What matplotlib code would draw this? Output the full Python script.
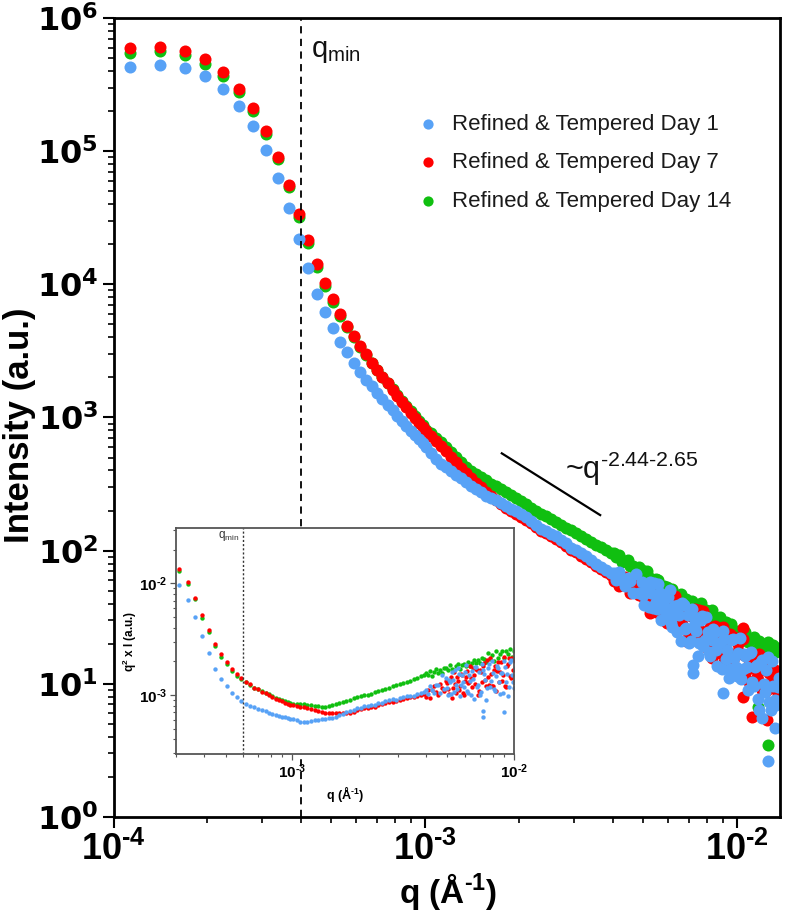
import matplotlib
matplotlib.use('Agg')
import matplotlib.pyplot as plt
from matplotlib.ticker import NullFormatter
import numpy as np

# ---------------- data ----------------
# q grid in units of 1e-4 1/Angstrom
q_e4 = [1.13, 1.41, 1.69, 1.97, 2.25, 2.53, 2.81, 3.09, 3.37, 3.65,
        3.93, 4.21, 4.49, 4.77, 5.05, 5.33, 5.61, 5.89, 6.17, 6.45,
        6.73, 7.01, 7.29, 7.57, 7.85, 8.13, 8.41, 8.69, 8.97, 9.25,
        9.53, 9.81, 10.09,
        10.47, 10.86, 11.27, 11.69, 12.13, 12.59, 13.06, 13.55, 14.06, 14.59,
        15.14, 15.70, 16.29, 16.90, 17.54, 18.20, 18.88, 19.59, 20.32, 21.09,
        21.88, 22.70, 23.55, 24.43, 25.35, 26.30, 27.29, 28.31, 29.38, 30.48,
        31.62, 32.81, 34.04, 35.32, 36.64, 38.02, 39.45,
        40.18, 41.02, 41.88, 42.76, 43.65, 44.57, 45.50, 46.45, 47.42, 48.42,
        49.43, 50.47, 51.52, 52.60, 53.70, 54.83, 55.98, 57.15, 58.34, 59.57,
        60.81, 62.09, 63.39, 64.71, 66.07, 67.45, 68.87, 70.31, 71.78, 73.28,
        74.82, 76.38, 77.98, 79.62, 81.28, 82.99, 84.72, 86.50, 88.31, 90.16,
        92.04, 93.97, 95.94, 97.95, 100.0, 102.1, 104.2, 106.4, 108.6, 110.9,
        113.2, 115.6, 118.0, 120.5, 123.0, 125.6, 128.2, 130.9, 133.7, 136.5]

I_day1 = [4.3e5, 4.4e5, 4.2e5, 3.65e5, 2.95e5, 2.2e5, 1.55e5, 1.02e5, 6.3e4, 3.75e4,
          2.2e4, 1.33e4, 8.5e3, 6.15e3, 4.7e3, 3.7e3, 3.08e3, 2.57e3, 2.2e3, 1.92e3,
          1.72e3, 1.53e3, 1.38e3, 1.245e3, 1.13e3, 1.025e3, 935, 857, 792, 736,
          684, 638, 597,
          541, 490, 449, 422, 397, 373, 351, 329, 308, 290,
          274, 258, 248, 239, 227, 217, 205, 199, 187, 178,
          166, 157, 146, 141, 133, 129, 120, 114, 105, 101,
          95.3, 91, 85.1, 79, 75.9, 71.9, 68.1,
          68.4, 60.3, 69.2, 60.3, 54.3, 62.4, 58.9, 47.9, 66.8, 47.9,
          58.2, 38.9, 49.5, 58.2, 37.2, 41.2, 56.2, 30.2, 44.2, 33.5,
          50.5, 26.8, 33.1, 39.2, 21.1, 39.4, 26.1, 20.4, 36.6, 28.6,
          16.1, 30.1, 19.2, 31.8, 17.2, 21.3, 24.3, 13.7, 20.1, 24.9,
          15.3, 11.0, 21.3, 15.6, 11.5, 22.1, 12.9, 16.3, 9.06, 17.4,
          9.62, 13.9, 6.31, 15.2, 8.75, 15.8, 6.38, 9.66, 6.92, 11.1]

I_day7 = [6.0e5, 6.1e5, 5.6e5, 4.9e5, 3.9e5, 2.95e5, 2.1e5, 1.42e5, 9.1e4, 5.6e4,
          3.4e4, 2.17e4, 1.42e4, 1.02e4, 7.7e3, 6.0e3, 4.9e3, 4.1e3, 3.45e3, 2.99e3,
          2.57e3, 2.28e3, 2.02e3, 1.81e3, 1.62e3, 1.455e3, 1.315e3, 1.197e3, 1.09e3, 998,
          914, 843, 791,
          724, 665, 610, 556, 507, 461, 421, 384, 350, 322,
          299, 278, 258, 240, 223, 208, 198, 190, 180, 171,
          160, 151, 141, 136, 128, 123, 116, 109, 102, 97,
          91.5, 87, 82, 76.5, 73, 69, 65.5,
          59.7, 66.1, 54.0, 60.5, 63.4, 54.0, 48.5, 58.3, 51.9, 46.8,
          54.1, 44.3, 50.5, 34.0, 55.6, 34.5, 42.8, 37.0, 44.6, 28.4,
          39.2, 33.0, 45.5, 28.1, 34.8, 37.3, 21.0, 33.9, 25.2, 36.4,
          21.7, 25.1, 35.1, 18.8, 25.3, 15.7, 27.4, 21.3, 17.1, 26.7,
          13.8, 21.5, 16.1, 22.5, 13.0, 16.9, 21.9, 12.1, 15.7, 9.68,
          16.2, 11.2, 16.7, 8.93, 12.9, 9.95, 13.2, 7.28, 11.2, 8.59]

I_day14 = [5.5e5, 5.6e5, 5.25e5, 4.55e5, 3.65e5, 2.8e5, 2.0e5, 1.34e5, 8.7e4, 5.4e4,
           3.2e4, 2.06e4, 1.35e4, 9.7e3, 7.4e3, 5.8e3, 4.75e3, 4.0e3, 3.4e3, 2.95e3,
           2.56e3, 2.28e3, 2.03e3, 1.83e3, 1.64e3, 1.48e3, 1.34e3, 1.225e3, 1.12e3, 1.03e3,
           945, 873, 810,
           760, 705, 653, 600, 551, 505, 463, 426, 396, 375,
           356, 337, 319, 304, 289, 275, 262, 249, 236, 223,
           210, 200, 190, 181, 172, 164, 156, 149, 142, 135,
           128, 122, 116, 111, 106, 102, 96.4,
           96.6, 89.3, 93.1, 81.7, 84.3, 85.5, 76.4, 77.3, 70.3, 75.0,
           71.1, 65.2, 70.0, 62.4, 58.2, 60.8, 60.1, 52.1, 54.5, 53.7,
           49.1, 51.5, 45.5, 46.0, 47.6, 42.3, 43.2, 38.8, 41.6, 39.0,
           35.6, 40.6, 34.7, 36.0, 30.7, 36.1, 30.1, 31.0, 31.8, 26.5,
           29.1, 26.3, 28.2, 22.8, 25.0, 25.1, 21.6, 24.6, 20.5, 21.8,
           22.6, 18.4, 20.9, 19.8, 17.9, 20.7, 18.2, 19.5, 17.4, 18.6]

# second (interleaved) set of noisy high-q points, q in units of 1e-4
q2_e4 = [49.95, 51.0, 52.06, 53.15, 54.27, 55.4, 56.57, 57.75, 58.96, 60.19,
         61.45, 62.74, 64.05, 65.39, 66.76, 68.16, 69.59, 71.05, 72.53, 74.05,
         75.6, 77.18, 78.8, 80.45, 82.14, 83.86, 85.61, 87.41, 89.24, 91.1,
         93.0, 94.96, 96.95, 98.98, 101.05, 103.15, 105.3, 107.5, 109.75, 112.05,
         114.4, 116.8, 119.25, 121.75, 124.3, 126.9, 129.55, 132.3, 135.1]
I2_day1 = [46.5, 52.8, 37.8, 48.1, 57.2, 36.5, 48.1, 36.5, 37.8, 44.8,
           28.5, 38.2, 24.3, 32.6, 40.2, 25.6, 32.9, 20.9, 31.7, 24.8,
           20.3, 32.1, 21.4, 24.4, 16.2, 25.8, 17.9, 20.4, 13.0, 21.6,
           17.8, 13.0, 21.9, 13.4, 17.1, 10.9, 16.7, 13.3, 16.9, 10.3,
           13.3, 7.65, 14.7, 10.0, 12.8, 7.33, 14.8, 7.5, 9.55]
I2_day7 = [51.7, 38.9, 53.9, 40.6, 42.6, 47.3, 34.6, 46.6, 29.8, 36.8,
           43.1, 33.3, 34.8, 40.6, 28.1, 35.9, 22.2, 32.1, 34.5, 24.7,
           35.7, 20.5, 24.7, 18.5, 26.8, 23.2, 18.0, 26.1, 18.8, 14.6,
           21.1, 23.6, 15.2, 17.1, 19.9, 12.8, 16.6, 10.6, 16.5, 13.2,
           16.5, 10.6, 12.7, 14.2, 8.76, 12.1, 9.29, 12.8, 8.17]

# isolated points at high q
q_out_day1 = [7.24e-3, 7.24e-3, 9.03e-3, 1.20e-2, 1.259e-2, 1.324e-2]
I_out_day1 = [13.8, 12.0, 8.6, 5.5, 2.65, 4.63]
q_out_day7 = [1.047e-2, 1.047e-2, 1.114e-2, 1.245e-2]
I_out_day7 = [26.1, 8.0, 5.66, 5.35]
q_out_day14 = [1.17e-2, 1.259e-2]
I_out_day14 = [6.73, 3.47]

labels = ['Refined & Tempered Day 1', 'Refined & Tempered Day 7', 'Refined & Tempered Day 14']
colors = ['#58a2f6', '#ff0000', '#10bf10']

q_min_main = 4.0e-4
q_min_inset = 5.97e-4
slope_q = [1.76e-3, 3.64e-3]
slope_I = [538, 185]

SANS = 'Liberation Sans'
HY = '\u2010'  # short hyphen used in exponents

q = np.array(q_e4) * 1e-4
q2 = np.array(q2_e4) * 1e-4
series = [
    [(q, np.array(I_day1)), (q2, np.array(I2_day1)), (np.array(q_out_day1), np.array(I_out_day1))],
    [(q, np.array(I_day7)), (q2, np.array(I2_day7)), (np.array(q_out_day7), np.array(I_out_day7))],
    [(q, np.array(I_day14)), (np.array(q_out_day14), np.array(I_out_day14))],
]
for s in series:
    for qq, ii in s:
        assert len(qq) == len(ii)

fig = plt.figure(figsize=(7.87, 9.21), dpi=100)
fig.patch.set_facecolor('white')
ax = fig.add_axes([0.1443, 0.1129, 0.8468, 0.8676])

handles = [None] * 3
for idx in [2, 1, 0]:  # green, red, then blue on top
    for j, (qq, ii) in enumerate(series[idx]):
        h = ax.scatter(qq, ii, s=75, color=colors[idx], linewidths=0, zorder=2 + (2 - idx) * 0.1)
        if j == 0:
            handles[idx] = h

ax.set_xscale('log')
ax.set_yscale('log')
ax.set_xlim(1e-4, 0.01374)
ax.set_ylim(1, 1e6)

ax.axvline(q_min_main, color='black', ls=(0, (4, 3)), lw=1.3, zorder=3)
ax.text(4.3e-4, 10 ** 5.75, r'q$_{\mathregular{min}}$', fontsize=21, family=SANS,
        va='center', ha='left', color='#111111')
ax.plot(slope_q, slope_I, color='black', lw=1.6, zorder=3)
ax.text(2.8e-3, 345, r'~q$^{\mathregular{%s2.44%s2.65}}$' % (HY, HY), fontsize=22, family=SANS,
        va='baseline', ha='left', color='#111111')

# ticks
xmaj = [1e-4, 1e-3, 1e-2]
ax.set_xticks(xmaj)
ax.set_xticklabels([r'$\mathregular{10^{%s%d}}$' % (HY, -round(np.log10(v))) for v in xmaj],
                   fontfamily=SANS, fontweight='bold', fontsize=26)
xmin = [m * 10.0 ** e for e in (-4, -3) for m in range(2, 10)]
ax.set_xticks(xmin, minor=True)
ax.xaxis.set_minor_formatter(NullFormatter())
ymaj = [10.0 ** e for e in range(0, 7)]
ax.set_yticks(ymaj)
ax.set_yticklabels([r'$\mathregular{10^{%d}}$' % e for e in range(0, 7)],
                   fontfamily='DejaVu Sans', fontweight='bold', fontsize=23)
ymin = [m * 10.0 ** e for e in range(0, 6) for m in range(2, 10)]
ax.set_yticks(ymin, minor=True)
ax.yaxis.set_minor_formatter(NullFormatter())
ax.tick_params(which='major', direction='out', length=8, width=1.5, pad=3)
ax.tick_params(which='minor', direction='out', length=4.5, width=1.2)
for sp in ax.spines.values():
    sp.set_linewidth(2)

ax.set_xlabel(r'q (Å$^{\mathregular{%s1}}$)' % HY, fontfamily=SANS, fontweight='bold', fontsize=24)
ax.xaxis.set_label_coords(0.502, -0.0675)
ax.xaxis.label.set_va('top')
ax.set_ylabel('Intensity (a.u.)', fontfamily=SANS, fontweight='bold', fontsize=25)
ax.yaxis.set_label_coords(-0.117, 0.49)

leg = ax.legend(handles=handles, labels=labels, loc='upper left', bbox_to_anchor=(0.455, 0.880),
                frameon=False, prop={'family': SANS, 'size': 16}, markerscale=0.85,
                handlelength=1.0, handletextpad=0.6, labelspacing=0.78, borderaxespad=0,
                borderpad=0, scatterpoints=1)
for t in leg.get_texts():
    t.set_color('#1a1a1a')

# ---------------- inset ----------------
axin = fig.add_axes([0.2233, 0.1813, 0.4299, 0.2457])
axin.set_facecolor('white')
for idx in [2, 1, 0]:
    for qq, ii in series[idx]:
        axin.scatter(qq, qq ** 2 * ii, s=10, color=colors[idx], linewidths=0)
axin.set_xscale('log')
axin.set_yscale('log')
axin.set_xlim(2.98e-4, 1e-2)
axin.set_ylim(2.96e-4, 0.0315)
axin.axvline(q_min_inset, color='#333333', ls=(0, (1.5, 1.5)), lw=1.0)
axin.text(5.8e-4, 0.0265, r'q$_{\mathregular{min}}$', fontsize=8.5, family=SANS, ha='right', va='center',
          color='#333333')
axin.set_xticks([1e-3, 1e-2])
axin.set_xticklabels([r'$\mathregular{10^{%s3}}$' % HY, r'$\mathregular{10^{%s2}}$' % HY],
                     fontfamily=SANS, fontweight='bold', fontsize=11)
axin.set_xticks([m * 10.0 ** e for e in (-4, -3) for m in range(2, 10) if 2.98e-4 <= m * 10.0 ** e <= 1e-2],
                minor=True)
axin.xaxis.set_minor_formatter(NullFormatter())
axin.set_yticks([1e-3, 1e-2])
axin.set_yticklabels([r'$\mathregular{10^{%s3}}$' % HY, r'$\mathregular{10^{%s2}}$' % HY],
                     fontfamily=SANS, fontweight='bold', fontsize=11)
axin.set_yticks([m * 10.0 ** e for e in (-4, -3, -2) for m in range(2, 10) if 2.96e-4 <= m * 10.0 ** e <= 0.0315],
                minor=True)
axin.yaxis.set_minor_formatter(NullFormatter())
axin.tick_params(which='major', direction='out', length=4, width=0.9, color='#555555', pad=2)
axin.tick_params(which='minor', direction='out', length=2.5, width=0.8, color='#555555')
for sp in axin.spines.values():
    sp.set_linewidth(1.3)
    sp.set_color('#555555')
axin.set_xlabel(r'q (Å$^{\mathregular{%s1}}$)' % HY, fontfamily=SANS, fontweight='bold', fontsize=9, labelpad=2)
axin.set_ylabel(r'q$^{\mathregular{2}}$ x I (a.u.)', fontfamily=SANS, fontweight='bold', fontsize=8.5,
                labelpad=0)

fig.savefig('out.png', dpi=100, facecolor='white')
